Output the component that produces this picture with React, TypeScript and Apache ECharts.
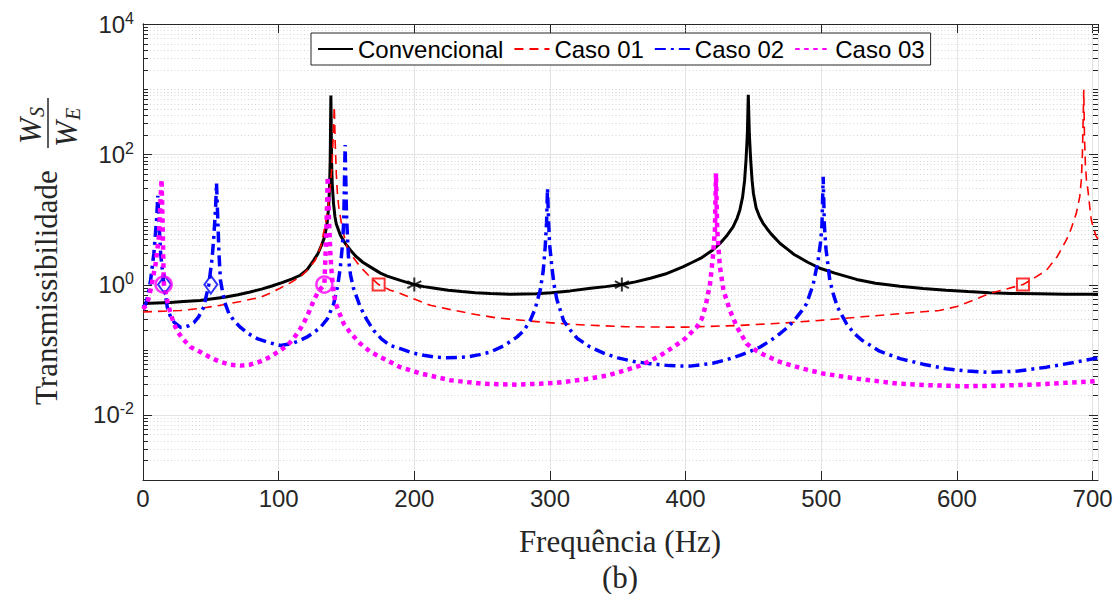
import React, { useEffect, useRef } from 'react';
import * as echarts from 'echarts';

// ---------- data ----------
const seriesNames = ['Convencional', 'Caso 01', 'Caso 02', 'Caso 03'];

const conv: [number, number][] = [
  [0, 0.51], [10, 0.52], [20, 0.53], [30, 0.55], [42, 0.57], [50, 0.6], [60, 0.64], [70, 0.7], [79, 0.77],
  [88, 0.86], [95, 0.95], [103, 1.08], [110, 1.22], [116, 1.39], [121, 1.7], [125.9, 2.37], [129, 3.0],
  [132, 4.2], [134, 5.5], [135.8, 9], [136.8, 15], [137.5, 30], [138, 80], [138.5, 800], [139, 80],
  [139.5, 35], [140.4, 18], [141.5, 11], [142.5, 8.5], [145.5, 5.7], [149, 4.3], [152.8, 3.4], [157, 2.7],
  [162, 2.2], [167.5, 1.87], [175, 1.5], [180, 1.35], [189.7, 1.16], [200, 1.0], [207, 0.93], [215, 0.88],
  [225, 0.82], [235, 0.78], [245, 0.75], [256, 0.73], [271, 0.71], [290, 0.72], [301, 0.75], [315, 0.8],
  [330, 0.88], [341, 0.93], [353, 1.0], [363, 1.1], [374, 1.25], [385, 1.45], [398, 1.87], [405, 2.2],
  [412, 2.6], [420, 3.4], [425, 4.2], [430, 5.5], [435, 7.7], [438, 10.5], [440, 14], [442, 22],
  [443.5, 40], [444.5, 80], [445.5, 200], [446.2, 820], [447, 200], [448, 80], [449, 40], [450, 25],
  [452, 15], [454.5, 11], [457, 8.8], [460, 7.2], [463, 6.0], [469.5, 4.3], [475, 3.5], [480, 2.9],
  [490, 2.2], [499, 1.78], [510, 1.5], [526, 1.2], [540, 1.05], [558, 0.94], [575, 0.87], [592, 0.82],
  [608, 0.78], [624, 0.75], [640, 0.73], [660, 0.72], [680, 0.71], [704, 0.71],
];

const caso01: [number, number][] = [
  [0, 0.38], [15, 0.39], [27.7, 0.4], [42, 0.43], [57, 0.48], [72, 0.55], [86.6, 0.64], [95, 0.76],
  [101, 0.88], [108, 1.05], [116, 1.31], [122, 1.75], [127, 2.37], [131, 3.8], [134.6, 8.8], [136.5, 15],
  [138, 30], [139.4, 73], [140.3, 200], [141, 540], [141.7, 150], [142.5, 50], [143.3, 25], [144.3, 15.6],
  [147, 7], [150.4, 3.8], [155, 2.6], [160.2, 1.87], [166, 1.4], [173.7, 1.0], [182.3, 0.82], [189.7, 0.73],
  [200, 0.6], [211.8, 0.48], [225, 0.42], [241, 0.36], [260, 0.31], [285.4, 0.275], [310, 0.25],
  [330, 0.237], [355, 0.226], [374, 0.223], [400, 0.222], [440, 0.236], [470, 0.255], [499, 0.282],
  [530, 0.32], [558, 0.358], [587, 0.4], [600, 0.46], [611.7, 0.57], [624, 0.73], [636, 0.85],
  [648.7, 1.0], [658, 1.3], [666, 1.66], [674, 2.7], [680.6, 4.8], [684, 7], [688, 12.4], [690.5, 22],
  [691.7, 40], [692.5, 100], [693, 300], [693.5, 975], [694, 200], [694.7, 70], [695.5, 40],
  [696.6, 28], [698, 15], [699.1, 9.7], [702.3, 5.7], [704, 5],
];

const caso02: [number, number][] = [
  [0, 0.45], [2, 0.5], [4, 0.75], [5.6, 1.16], [8, 3.0], [10, 9.7], [10.9, 23], [11.8, 9], [13, 3.0],
  [15.4, 1.0], [17.9, 0.45], [20.3, 0.32], [22.8, 0.266], [27.7, 0.22], [30.1, 0.22], [34, 0.235],
  [37.5, 0.26], [41, 0.32], [44.8, 0.45], [48.5, 1.0], [51, 2.6], [52.2, 5.4], [53.5, 15], [54.2, 36],
  [55, 12], [56, 3.0], [57.1, 1.16], [60, 0.55], [63.3, 0.36], [67, 0.28], [71.9, 0.22], [78, 0.175],
  [84.2, 0.148], [92, 0.13], [101.3, 0.116], [110, 0.125], [116, 0.14], [121, 0.157], [126, 0.185],
  [130.8, 0.22], [136, 0.3], [140.6, 0.51], [143.5, 0.95], [145.5, 1.87], [147, 4], [148, 9.7],
  [149, 139], [150, 12], [150.8, 5], [151.6, 2.37], [153, 1.4], [155, 0.9], [160.2, 0.45], [165, 0.29],
  [170, 0.198], [176, 0.145], [182.3, 0.116], [189.7, 0.104], [198, 0.09], [206.9, 0.082], [215, 0.077],
  [224, 0.075], [232, 0.076], [240, 0.078], [248, 0.084], [256, 0.092], [266, 0.115], [275.6, 0.156],
  [281, 0.2], [285.4, 0.28], [289, 0.42], [292.8, 0.82], [295, 1.6], [296.5, 3.8], [297.5, 9], [298.2, 30],
  [299, 9], [299.8, 4], [301.4, 1.87], [303, 1.0], [305, 0.6], [310, 0.28], [315, 0.2], [320, 0.15],
  [329.6, 0.11], [340, 0.088], [350, 0.075], [362, 0.066], [373.8, 0.061], [388, 0.057], [403.2, 0.056],
  [420, 0.062], [430, 0.07], [440, 0.082], [448, 0.095], [455, 0.11], [463, 0.14], [469.5, 0.176],
  [475, 0.22], [480, 0.28], [485, 0.38], [489.2, 0.51], [494, 1.0], [497.7, 2.37], [499.5, 4.5],
  [500.5, 8], [501.4, 45], [502.3, 8], [503.5, 3.5], [506.3, 1.16], [509, 0.7], [512, 0.45], [518.6, 0.25],
  [524, 0.18], [530, 0.14], [543, 0.095], [558, 0.073], [575, 0.06], [592, 0.051], [608, 0.047],
  [624, 0.045], [645, 0.047], [666, 0.054], [685, 0.063], [704, 0.075],
];

const caso03: [number, number][] = [
  [0, 0.42], [3, 0.5], [6, 0.9], [9.3, 2.1], [11.7, 5.4], [12.8, 17.8], [13.7, 41], [14.3, 12],
  [14.9, 3.0], [15.4, 1.0], [16.6, 0.75], [17.9, 0.57], [20, 0.38], [22.8, 0.25], [25.5, 0.19],
  [28.9, 0.15], [35, 0.11], [42.4, 0.092], [50, 0.075], [57, 0.065], [64, 0.059], [71.9, 0.057],
  [79, 0.059], [86.6, 0.066], [94, 0.078], [101.3, 0.098], [106, 0.115], [110, 0.14], [113, 0.17],
  [116, 0.21], [119, 0.27], [121, 0.33], [123.5, 0.43], [125.8, 0.57], [129.5, 0.8], [133.7, 1.0],
  [134.6, 3.0], [135.5, 12], [136.2, 45], [137.2, 9], [138.1, 3.0], [139.3, 1.3], [140.6, 0.73],
  [142, 0.52], [144, 0.4], [148, 0.25], [153, 0.18], [160.2, 0.124], [167, 0.095], [175, 0.077],
  [189.7, 0.054], [205, 0.043], [226.5, 0.034], [250, 0.03], [275.6, 0.029], [305, 0.031],
  [325, 0.035], [341.9, 0.04], [355, 0.048], [366.4, 0.057], [380, 0.078], [391, 0.11], [400, 0.15],
  [408.2, 0.223], [412, 0.3], [415, 0.5], [418, 1.03], [420, 2.5], [421.6, 6.8], [422.4, 51],
  [423.3, 7], [424.3, 3.5], [425.3, 1.87], [428, 0.8], [432.7, 0.4], [438, 0.22], [445, 0.124],
  [451, 0.1], [457, 0.085], [469.5, 0.065], [485, 0.052], [501.4, 0.043], [530, 0.035], [558, 0.03],
  [580, 0.0285], [604.5, 0.0275], [630, 0.028], [653.6, 0.029], [680, 0.031], [704, 0.033],
];

const convMarks: [number, number][] = [[200, 1], [353, 1]];
const caso01Marks: [number, number][] = [[173.7, 1], [648.7, 1]];
const caso02Marks: [number, number][] = [[15.9, 1], [50, 1]];
const caso03Marks: [number, number][] = [[15.2, 1], [133.7, 1]];

const xMin = 0;
const xMax = 704;
const xStep = 100;
const yMin = 1e-3;
const yMax = 1e4;
const labeledExponents = [-2, 0, 2, 4];
const decadeExponents = [-3, -2, -1, 0, 1, 2, 3];
const minorMultipliers = [2, 3, 4, 5, 6, 7, 8, 9];

// ---------- styling ----------
const SANS = 'Liberation Sans';
const SERIF = 'Liberation Serif';
const AX = '#262626';

export default function App() {
  const ref = useRef<HTMLDivElement>(null);

  useEffect(() => {
    if (!ref.current) return;
    const chart = echarts.init(ref.current, undefined, { renderer: 'svg' });

    // grid / tick values for the log axis
    const gridRows: [number, number, number][] = [];
    decadeExponents.forEach((e) => {
      const base = Math.pow(10, e);
      if (e > -3) gridRows.push([0, base, labeledExponents.includes(e) ? 1 : 0]);
      minorMultipliers.forEach((m) => gridRows.push([0, m * base, 0]));
    });

    const renderGrid = (params: any, api: any) => {
      const v = api.value(1);
      const major = api.value(2) === 1;
      const p = api.coord([xMin, v]);
      const cs = params.coordSys;
      const y = Math.round(p[1]) + 0.5;
      const tl = major ? 9 : 5;
      return {
        type: 'group',
        children: [
          {
            type: 'line',
            shape: { x1: cs.x, y1: y, x2: cs.x + cs.width, y2: y },
            style: major
              ? { stroke: '#e3e3e3', lineWidth: 1 }
              : { stroke: '#d6d6d6', lineWidth: 1, lineDash: [1, 2.5] },
          },
          { type: 'line', shape: { x1: cs.x, y1: y, x2: cs.x + tl, y2: y }, style: { stroke: AX, lineWidth: 1 } },
          {
            type: 'line',
            shape: { x1: cs.x + cs.width - tl, y1: y, x2: cs.x + cs.width, y2: y },
            style: { stroke: AX, lineWidth: 1 },
          },
        ],
      };
    };

    const lineBase = { type: 'line', symbol: 'none', showSymbol: false, smooth: false, z: 3 } as any;

    const option: any = {
      animation: false,
      backgroundColor: '#ffffff',
      grid: { left: 143, right: 18, top: 24, bottom: 114 },
      legend: {
        data: seriesNames,
        left: 311,
        top: 33,
        itemWidth: 35,
        itemHeight: 14,
        itemGap: 10,
        padding: [4, 6, 4, 6],
        borderColor: AX,
        borderWidth: 1,
        backgroundColor: '#ffffff',
        borderRadius: 0,
        itemStyle: { opacity: 0 },
        textStyle: { fontFamily: SANS, fontSize: 24, color: '#000' },
        selectedMode: false,
        z: 10,
      },
      xAxis: [
        {
          type: 'value',
          min: xMin,
          max: xMax,
          interval: xStep,
          position: 'bottom',
          axisLine: { show: true, lineStyle: { color: AX, width: 1 } },
          axisTick: { show: true, inside: true, length: 9, lineStyle: { color: AX } },
          axisLabel: { fontFamily: SANS, fontSize: 24, color: AX, margin: 6, showMaxLabel: false },
          splitLine: { show: true, lineStyle: { color: '#e3e3e3', width: 1 } },
        },
        {
          type: 'value',
          min: xMin,
          max: xMax,
          interval: xStep,
          position: 'top',
          axisLine: { show: true, lineStyle: { color: AX, width: 1 } },
          axisTick: { show: true, inside: true, length: 9, lineStyle: { color: AX } },
          axisLabel: { show: false },
          splitLine: { show: false },
        },
      ],
      yAxis: [
        {
          type: 'log',
          logBase: 10,
          min: yMin,
          max: yMax,
          position: 'left',
          axisLine: { show: true, lineStyle: { color: AX, width: 1 } },
          axisTick: { show: false },
          splitLine: { show: false },
          axisLabel: {
            margin: 9,
            formatter: (v: number) => {
              const e = Math.round(Math.log10(v));
              return labeledExponents.includes(e) ? `{b|10}{e|${e}}` : '';
            },
            rich: {
              b: { fontFamily: SANS, fontSize: 24, color: AX },
              e: { fontFamily: SANS, fontSize: 16, color: AX, padding: [0, 0, 12, 0] },
            },
          },
        },
        {
          type: 'log',
          logBase: 10,
          min: yMin,
          max: yMax,
          position: 'right',
          axisLine: { show: true, lineStyle: { color: AX, width: 1 } },
          axisTick: { show: false },
          axisLabel: { show: false },
          splitLine: { show: false },
        },
      ],
      series: [
        {
          type: 'custom',
          name: 'grid',
          silent: true,
          z: 1,
          renderItem: renderGrid,
          data: gridRows,
          encode: { x: 0, y: 1 },
        },
        {
          ...lineBase,
          name: seriesNames[0],
          data: conv,
          lineStyle: { color: '#000000', width: 3, type: 'solid' },
          itemStyle: { color: '#000000' },
        },
        {
          ...lineBase,
          name: seriesNames[1],
          data: caso01,
          lineStyle: { color: '#ff0000', width: 1.6, type: [9, 6] },
          itemStyle: { color: '#ff0000' },
        },
        {
          ...lineBase,
          name: seriesNames[2],
          data: caso02,
          lineStyle: { color: '#0000ff', width: 3.5, type: [11, 5, 3, 5] },
          itemStyle: { color: '#0000ff' },
        },
        {
          ...lineBase,
          name: seriesNames[3],
          data: caso03,
          lineStyle: { color: '#ff00ff', width: 4.5, type: [4.5, 4.5] },
          itemStyle: { color: '#ff00ff' },
        },
        {
          type: 'scatter',
          name: 'convMarks',
          data: convMarks,
          symbol: 'path://M0,-10L0,10M-8.66,-5L8.66,5M-8.66,5L8.66,-5',
          symbolSize: 14,
          itemStyle: { color: 'rgba(0,0,0,0)', borderColor: '#000000', borderWidth: 2 },
          z: 5,
          silent: true,
        },
        {
          type: 'scatter',
          name: 'caso01Marks',
          data: caso01Marks,
          symbol: 'rect',
          symbolSize: 12,
          itemStyle: { color: 'rgba(0,0,0,0)', borderColor: '#ff0000', borderWidth: 2 },
          z: 5,
          silent: true,
        },
        {
          type: 'scatter',
          name: 'caso02Marks',
          data: caso02Marks,
          symbol: 'diamond',
          symbolSize: [13, 18],
          itemStyle: { color: 'rgba(0,0,0,0)', borderColor: '#0000ff', borderWidth: 2 },
          z: 5,
          silent: true,
        },
        {
          type: 'scatter',
          name: 'caso03Marks',
          data: caso03Marks,
          symbol: 'circle',
          symbolSize: 16,
          itemStyle: { color: 'rgba(0,0,0,0)', borderColor: '#ff00ff', borderWidth: 2.5 },
          z: 6,
          silent: true,
        },
      ],
      graphic: [
        {
          type: 'group',
          x: 46,
          y: 405,
          rotation: Math.PI / 2,
          children: [
            {
              type: 'text',
              x: 0,
              y: 0,
              style: {
                text: 'Transmissibilidade',
                fontFamily: SERIF,
                fontSize: 31,
                fill: AX,
                align: 'left',
                verticalAlign: 'middle',
              },
            },
            {
              type: 'text',
              x: 261,
              y: -16,
              style: { text: 'W', fontFamily: SERIF, fontStyle: 'italic', fontSize: 31, fill: AX, align: 'left', verticalAlign: 'middle' },
            },
            {
              type: 'text',
              x: 288,
              y: -9,
              style: { text: 'S', fontFamily: SERIF, fontStyle: 'italic', fontSize: 20, fill: AX, align: 'left', verticalAlign: 'middle' },
            },
            {
              type: 'line',
              shape: { x1: 257, y1: 2, x2: 307, y2: 2 },
              style: { stroke: AX, lineWidth: 1.5 },
            },
            {
              type: 'text',
              x: 258,
              y: 20,
              style: { text: 'W', fontFamily: SERIF, fontStyle: 'italic', fontSize: 31, fill: AX, align: 'left', verticalAlign: 'middle' },
            },
            {
              type: 'text',
              x: 285,
              y: 27,
              style: { text: 'E', fontFamily: SERIF, fontStyle: 'italic', fontSize: 20, fill: AX, align: 'left', verticalAlign: 'middle' },
            },
          ],
        },
        {
          type: 'text',
          x: 620,
          y: 541,
          style: {
            text: 'Frequência (Hz)',
            fontFamily: SERIF,
            fontSize: 31,
            fill: AX,
            align: 'center',
            verticalAlign: 'middle',
          },
        },
        {
          type: 'text',
          x: 620,
          y: 577,
          style: { text: '(b)', fontFamily: SERIF, fontSize: 31, fill: AX, align: 'center', verticalAlign: 'middle' },
        },
      ],
    };

    chart.setOption(option);
    return () => chart.dispose();
  }, []);

  return (
    <div
      ref={ref}
      style={{ position: 'fixed', left: 0, top: 0, width: 1116, height: 594, background: '#fff' }}
    />
  );
}
